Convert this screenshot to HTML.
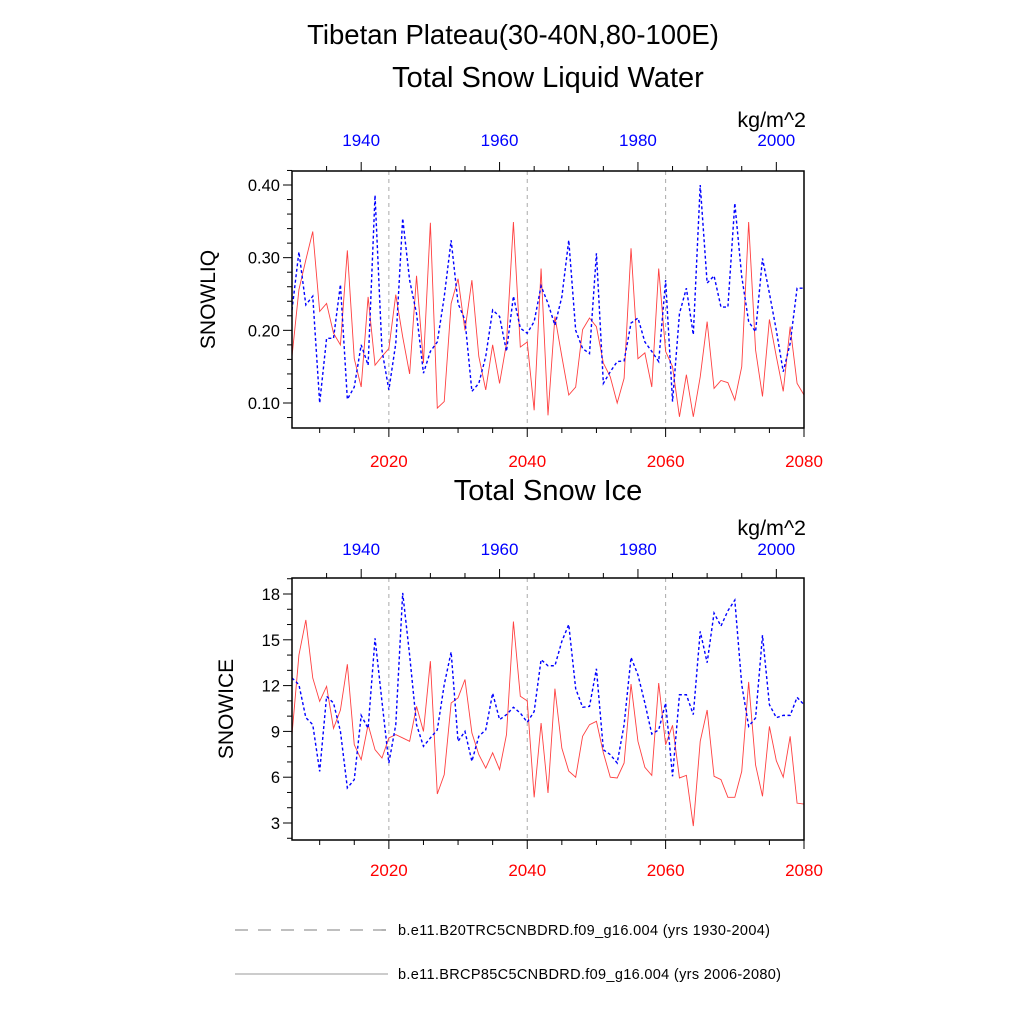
<!DOCTYPE html>
<html><head><meta charset="utf-8"><style>
html,body{margin:0;padding:0;background:#fff;}
svg{display:block;font-family:"Liberation Sans",sans-serif;}
</style></head><body>
<svg id="chart" width="1024" height="1024" viewBox="0 0 1024 1024" xmlns="http://www.w3.org/2000/svg">
<rect width="1024" height="1024" fill="#fff"/>
<text x="513" y="44" font-size="27.5" text-anchor="middle">Tibetan Plateau(30-40N,80-100E)</text>
<text x="548" y="87" font-size="29" text-anchor="middle">Total Snow Liquid Water</text>
<text x="548" y="500" font-size="29" text-anchor="middle">Total Snow Ice</text>
<g id="p1"></g>
<g id="p2"></g>
<g>
<line x1="235" y1="930" x2="388" y2="930" stroke="#000" stroke-width="0.6" stroke-dasharray="13,10"/>
<text x="398" y="935" font-size="14.5" textLength="372">b.e11.B20TRC5CNBDRD.f09_g16.004 (yrs 1930-2004)</text>
<line x1="235" y1="974" x2="388" y2="974" stroke="#000" stroke-width="0.4"/>
<text x="398" y="979" font-size="14.5" textLength="383">b.e11.BRCP85C5CNBDRD.f09_g16.004 (yrs 2006-2080)</text>
</g>
</svg>
<script>
const redYears = []; for (let y = 2006; y <= 2080; y++) redYears.push(y);
const liqRed = [0.164,0.256,0.297,0.336,0.226,0.237,0.196,0.18,0.31,0.161,0.122,0.246,0.152,0.164,0.175,0.249,0.191,0.14,0.275,0.155,0.348,0.093,0.102,0.237,0.271,0.2,0.269,0.164,0.118,0.18,0.127,0.182,0.349,0.177,0.184,0.09,0.285,
0.083,0.219,0.164,0.111,0.122,0.201,0.217,0.205,0.155,0.136,0.1,0.134,0.313,0.161,0.169,0.122,0.285,0.171,0.15,0.081,0.139,0.081,0.136,0.212,0.12,0.131,0.128,0.104,0.15,0.349,0.173,0.109,0.215,0.164,0.116,0.205,0.127,0.111];
const liqBlue = [0.228,0.308,0.235,0.247,0.10,0.189,0.189,0.263,0.105,0.122,0.18,0.152,0.386,0.173,0.118,0.182,0.354,0.269,0.223,0.141,0.171,0.184,0.246,0.324,0.237,0.214,0.116,0.127,0.164,0.228,0.219,0.171,0.247,0.203,0.196,0.212,0.261,
0.237,0.207,0.246,0.324,0.2,0.175,0.168,0.306,0.127,0.143,0.157,0.158,0.21,0.217,0.184,0.171,0.157,0.269,0.102,0.223,0.258,0.194,0.40,0.265,0.275,0.232,0.232,0.375,0.274,0.212,0.198,0.299,0.251,0.2,0.143,0.182,0.258,0.258];
const iceRed = [8.8,14.0,16.3,12.5,10.97,11.95,9.2,10.4,13.4,8.13,7.15,9.44,7.8,7.26,8.57,8.79,8.57,8.35,10.64,9.0,13.6,4.9,6.17,10.86,11.2,12.4,8.9,7.48,6.6,7.6,6.5,8.79,16.2,11.3,11.0,4.68,9.55,
4.97,11.8,7.9,6.4,6.0,8.68,9.44,9.66,7.6,6.0,5.95,6.93,12.1,8.35,6.65,6.12,12.17,8.13,9.4,5.95,6.12,2.8,8.35,10.4,6.06,5.84,4.68,4.68,6.38,12.24,6.8,4.75,9.33,7.08,6.0,8.68,4.3,4.24];
const iceBlue = [12.5,12.06,9.9,9.44,6.38,11.3,10.86,9.0,5.3,5.84,10.05,9.2,15.1,10.97,6.93,9.44,18.07,14.0,9.44,8.02,8.57,9.1,12.06,14.2,8.35,9.0,7.04,8.68,9.1,11.5,9.77,10.1,10.58,10.2,9.6,10.3,13.7,
13.3,13.3,14.9,16.0,11.8,10.58,10.64,13.1,7.8,7.48,6.93,9.44,13.85,12.7,10.86,8.83,9.1,10.86,6.06,11.4,11.4,10.1,15.55,13.5,16.75,15.9,16.9,17.6,12.06,9.33,9.88,15.3,10.75,9.9,10.05,10.05,11.23,10.75];
const redTicks = [2020,2040,2060,2080];
const blueTicks = [1940,1960,1980,2000];
const liqTicks = [0.10,0.20,0.30,0.40];
const iceTicks = [3,6,9,12,15,18];

const NS = "http://www.w3.org/2000/svg";
function mk(parent, tag, attrs, text) {
  const e = document.createElementNS(NS, tag);
  for (const k in attrs) e.setAttribute(k, attrs[k]);
  if (text !== undefined) e.textContent = text;
  parent.appendChild(e); return e;
}
const X0 = 292, X1 = 804;
const xRed = yr => X0 + (yr - 2006) * (X1 - X0) / 74;
const xBlue = yr => X0 + (yr - 1930) * (X1 - X0) / 74;

function panel(g, cfg) {
  const {top, bot, vTop, vBot, yTop, yBot, red, blue, ticks, minor, fmt, ylabel, ylabX, kgY, blueY, redY} = cfg;
  const yS = v => yBot - (v - vBot) * (yBot - yTop) / (vTop - vBot);
  [2020,2040,2060].forEach(yr => {
    const l = mk(g, 'line', {x1:xRed(yr), x2:xRed(yr), y1:top, y2:bot, stroke:'#aaa', 'stroke-width':1, 'stroke-dasharray':'4,4'});
    
    
  });
  const pr = red.map((v,i) => xRed(redYears[i]).toFixed(2) + ',' + yS(v).toFixed(2)).join(' ');
  const lr = mk(g, 'polyline', {points: pr, fill:'none', stroke:'#ff4040', 'stroke-width':0.9});
  
  
  const pb = blue.map((v,i) => xRed(redYears[i]).toFixed(2) + ',' + yS(v).toFixed(2)).join(' ');
  const lb = mk(g, 'polyline', {points: pb, fill:'none', stroke:'#0000ff', 'stroke-width':1.4, 'stroke-dasharray':'3,2.5'});
  
  
  const fr = mk(g, 'rect', {x:X0, y:top, width:X1-X0, height:bot-top, fill:'none', stroke:'#000', 'stroke-width':1.5});
  
  
  for (let v = minor.start; v <= minor.end + 1e-9; v += minor.step) {
    const y = yS(v);
    const major = ticks.some(t => Math.abs(t - v) < 1e-6);
    mk(g, 'line', {x1:X0, x2:X0 - (major ? 9 : 5), y1:y, y2:y, stroke:'#000', 'stroke-width':1});
  }
  ticks.forEach(t => {
    const tx = mk(g, 'text', {x:X0 - 12, y:yS(t) + 6, 'font-size':16.5, 'text-anchor':'end'}, fmt(t));
    
    
  });
  for (let yr = 2010; yr <= 2080; yr += 5) {
    const x = xRed(yr); const major = yr % 20 === 0;
    mk(g, 'line', {x1:x, x2:x, y1:bot, y2:bot + (major ? 9 : 5), stroke:'#000', 'stroke-width':1});
  }
  for (let yr = 1935; yr <= 2000; yr += 5) {
    const x = xBlue(yr); const major = yr % 20 === 0;
    mk(g, 'line', {x1:x, x2:x, y1:top, y2:top - (major ? 9 : 5), stroke:'#000', 'stroke-width':1});
  }
  redTicks.forEach(t => {
    const tx = mk(g, 'text', {x:xRed(t), y:redY, 'font-size':17, 'text-anchor':'middle', fill:'#ff0000'}, String(t));
    
    
  });
  blueTicks.forEach(t => {
    const tx = mk(g, 'text', {x:xBlue(t), y:blueY, 'font-size':17, 'text-anchor':'middle', fill:'#0000ff'}, String(t));
    
    
  });
  const u = mk(g, 'text', {x:806, y:kgY, 'font-size':21.5, 'text-anchor':'end'}, 'kg/m^2');
  
  
  const yl = mk(g, 'text', {x:ylabX, y:(top+bot)/2, 'font-size':21, 'text-anchor':'middle', transform:'rotate(-90 ' + ylabX + ' ' + (top+bot)/2 + ')'}, ylabel);
  
  
}
panel(document.getElementById('p1'), {top:171, bot:428, vTop:0.40, vBot:0.10, yTop:185, yBot:403, red:liqRed, blue:liqBlue,
  ticks:liqTicks, minor:{start:0.10-0.02, end:0.42, step:0.02}, fmt:v=>v.toFixed(2), ylabel:'SNOWLIQ', ylabX:215, kgY:127, blueY:146, redY:467});
panel(document.getElementById('p2'), {top:578, bot:840, vTop:18, vBot:3, yTop:594, yBot:823, red:iceRed, blue:iceBlue,
  ticks:iceTicks, minor:{start:2, end:19, step:1}, fmt:v=>String(v), ylabel:'SNOWICE', ylabX:233, kgY:535, blueY:555, redY:876});
</script>
</body></html>
